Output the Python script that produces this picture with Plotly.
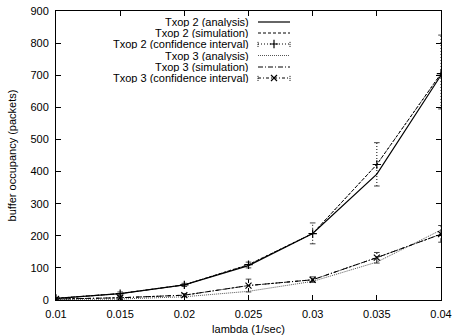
import plotly.graph_objects as go

lam = [0.01, 0.015, 0.02, 0.025, 0.03, 0.035, 0.04]
txop2_analysis = [5, 20, 47, 107, 207, 392, 700]
txop2_sim = [5, 20, 47, 110, 207, 422, 705]
txop2_lo = [3, 15, 42, 100, 175, 355, 595]
txop2_hi = [7, 25, 52, 118, 240, 490, 825]
txop3_analysis = [2, 3, 10, 27, 58, 118, 218]
txop3_sim = [3, 7, 15, 45, 63, 132, 205]
txop3_lo = [1, 3, 10, 25, 55, 115, 180]
txop3_hi = [5, 12, 20, 65, 72, 148, 232]

legend_names = ["Txop 2 (analysis)", "Txop 2 (simulation)", "Txop 2 (confidence interval)",
                "Txop 3 (analysis)", "Txop 3 (simulation)", "Txop 3 (confidence interval)"]

FONT = "Liberation Sans, Arial, sans-serif"
fig = go.Figure()

def seg_trace(xs, lo, hi, dash, color):
    X, Y = [], []
    for x, a, b in zip(xs, lo, hi):
        X += [x, x, None]
        Y += [a, b, None]
    return go.Scatter(x=X, y=Y, mode="lines", line=dict(color=color, width=1, dash=dash),
                      showlegend=False, hoverinfo="skip")

def caps(xs, lo, hi, color):
    return go.Scatter(x=list(xs) + list(xs), y=list(lo) + list(hi), mode="markers",
                      marker=dict(symbol="line-ew", size=4, line=dict(color=color, width=1)),
                      showlegend=False, hoverinfo="skip")

# Txop 2
fig.add_trace(go.Scatter(x=lam, y=txop2_analysis, mode="lines",
                         line=dict(color="black", width=1.2), showlegend=False))
fig.add_trace(go.Scatter(x=lam, y=txop2_sim, mode="lines",
                         line=dict(color="black", width=1, dash="3px,2px"), showlegend=False))
fig.add_trace(seg_trace(lam, txop2_lo, txop2_hi, "1px,2px", "black"))
fig.add_trace(caps(lam, txop2_lo, txop2_hi, "#444"))
fig.add_trace(go.Scatter(x=lam, y=txop2_sim, mode="lines+markers",
                         line=dict(color="black", width=1, dash="1px,2px"),
                         marker=dict(symbol="cross-thin", size=6, line=dict(color="black", width=1.2)),
                         showlegend=False))
# Txop 3
fig.add_trace(go.Scatter(x=lam, y=txop3_analysis, mode="lines",
                         line=dict(color="#555", width=1, dash="1px,1px"), showlegend=False))
fig.add_trace(go.Scatter(x=lam, y=txop3_sim, mode="lines",
                         line=dict(color="black", width=1, dash="5px,2px,1px,2px"), showlegend=False))
fig.add_trace(seg_trace(lam, txop3_lo, txop3_hi, "4px,2px,1px,2px", "black"))
fig.add_trace(caps(lam, txop3_lo, txop3_hi, "#444"))
fig.add_trace(go.Scatter(x=lam, y=txop3_sim, mode="lines+markers",
                         line=dict(color="black", width=1, dash="3px,2px,1px,2px"),
                         marker=dict(symbol="x-thin", size=6, line=dict(color="black", width=1.2)),
                         showlegend=False))

# custom gnuplot-style legend on an overlay axis (0..1 fraction of plot area)
W, H = 385.0, 289.0
def px_x(p): return (p - 56) / W
def px_y(p): return (300 - p) / H
rows = [22, 33, 44, 55.5, 67, 78]
styles = [
    dict(line=dict(color="black", width=1.2), marker=None),
    dict(line=dict(color="black", width=1, dash="3px,2px"), marker=None),
    dict(line=dict(color="black", width=1, dash="1px,2px"),
         marker=dict(symbol="cross-thin", size=6, line=dict(color="black", width=1.2))),
    dict(line=dict(color="#555", width=1, dash="1px,1px"), marker=None),
    dict(line=dict(color="black", width=1, dash="5px,2px,1px,2px"), marker=None),
    dict(line=dict(color="black", width=1, dash="3px,2px,1px,2px"),
         marker=dict(symbol="x-thin", size=6, line=dict(color="black", width=1.2))),
]
x0, x1 = px_x(258), px_x(290)
for name, r, st in zip(legend_names, rows, styles):
    yy = px_y(r)
    fig.add_trace(go.Scatter(x=[x0, x1], y=[yy, yy], mode="lines", line=st["line"],
                             xaxis="x2", yaxis="y2", showlegend=False, hoverinfo="skip"))
    if st["marker"] is not None:
        fig.add_trace(go.Scatter(x=[(x0 + x1) / 2], y=[yy], mode="markers", marker=st["marker"],
                                 xaxis="x2", yaxis="y2", showlegend=False, hoverinfo="skip"))
        fig.add_trace(go.Scatter(x=[x0, x0, None, x1, x1],
                                 y=[yy - 0.01, yy + 0.01, None, yy - 0.01, yy + 0.01],
                                 mode="lines", line=dict(color="black", width=1, dash="1px,1px"),
                                 xaxis="x2", yaxis="y2", showlegend=False, hoverinfo="skip"))
    fig.add_annotation(x=px_x(250), y=yy, xref="x2", yref="y2", text=name, showarrow=False,
                       xanchor="right", yanchor="middle", height=10, borderpad=0,
                       font=dict(family=FONT, size=11, color="black"))

axis_common = dict(showline=True, linecolor="black", linewidth=1, mirror="allticks",
                   ticks="inside", ticklen=5, tickcolor="black", showgrid=False, zeroline=False,
                   automargin=False,
                   tickfont=dict(family=FONT, size=11, color="black"))
fig.update_layout(
    width=452, height=335,
    margin=dict(l=56, r=11, t=11, b=35),
    plot_bgcolor="white", paper_bgcolor="white",
    xaxis=dict(range=[0.01, 0.04], tickvals=[0.01, 0.015, 0.02, 0.025, 0.03, 0.035, 0.04],
               ticktext=["0.01", "0.015", "0.02", "0.025", "0.03", "0.035", "0.04"],
               ticklabelstandoff=4,
               title=dict(text="lambda (1/sec)", font=dict(family=FONT, size=11, color="black"), standoff=6),
               **axis_common),
    yaxis=dict(range=[0, 900], dtick=100, ticklabelstandoff=4,
               title=dict(text="buffer occupancy (packets)", font=dict(family=FONT, size=11, color="black"), standoff=11),
               **axis_common),
    xaxis2=dict(overlaying="x", range=[0, 1], visible=False),
    yaxis2=dict(overlaying="y", range=[0, 1], visible=False),
)
fig.write_html("out.html")
